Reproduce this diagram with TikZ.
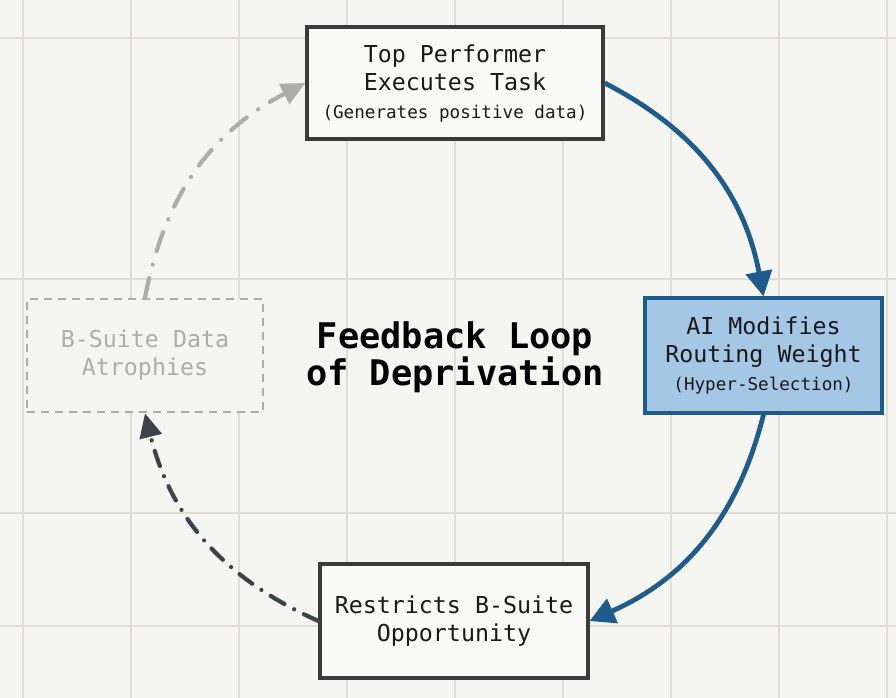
\documentclass[tikz,border=0pt]{standalone}
\usepackage{fontspec}
\setmonofont{DejaVu Sans Mono}
\usepackage{tikz}
\usetikzlibrary{arrows.meta}
\definecolor{paper}{HTML}{F5F5F1}
\definecolor{gridline}{HTML}{DFDDD8}
\definecolor{ink}{HTML}{3A3A3A}
\definecolor{routeblue}{HTML}{1D5C8C}
\definecolor{routefill}{HTML}{A4C7E5}
\definecolor{fadegray}{HTML}{ADADAB}
\definecolor{slate}{HTML}{3C434A}
\newcommand*{\bigline}{\fontsize{23.3}{28}\selectfont}
\newcommand*{\subline}[1]{{\fontsize{17.6}{27}\selectfont #1}}

\begin{document}
\begin{tikzpicture}
[
    x = 1pt, y = 1pt,
    grid/.style={draw = gridline, line width = 1.2pt},
    box/.style={draw = ink, line width = 3.2pt, fill = paper!50!white, minimum height = 112pt, align = center, font = \ttfamily\bigline, text = black!90},
    hot/.style={box, draw = routeblue, fill = routefill},
    faded/.style={box, draw = fadegray, line width = 2.6pt, dash pattern = on 8pt off 6pt, text = fadegray, fill = paper}, % Style for the lost node
    title/.style={align = center, font = \ttfamily\bfseries\fontsize{35.3}{36}\selectfont},
    arrow/.style={draw = routeblue, line width = 4.8pt, -{Triangle[length = 25pt, width = 26pt]}},
    back/.style={draw = slate, line width = 4.2pt, line cap = round, dash pattern = on 16pt off 11pt on 0pt off 11pt, -{Triangle[length = 24pt, width = 22pt]}},
    ghost/.style={back, draw = fadegray, dash pattern = on 20pt off 14pt on 0pt off 14pt},
]

% Paper and grid
\fill[paper] (0,0) rectangle (896,-698);
\useasboundingbox (0,0) rectangle (896,-698);
\foreach \gx in {23,131,...,887}
	\draw[grid] (\gx,0) -- (\gx,-698);
\foreach \gy in {38,279,513,626}
	\draw[grid] (0,-\gy) -- (896,-\gy);

% The four stages of the loop
\node[box, minimum width = 296pt] (perf) at (455,-83) {Top Performer\\Executes Task\\\subline{(Generates positive data)}};
\node[hot, minimum width = 237pt, minimum height = 115pt] (route) at (763.5,-355.5) {AI Modifies\\Routing Weight\\\subline{(Hyper-Selection)}};
\node[box, minimum width = 268pt, minimum height = 114pt] (restrict) at (454,-621) {Restricts B-Suite\\Opportunity};
\node[faded, minimum width = 236pt, minimum height = 113pt] (atrophy) at (145,-355.5) {B-Suite Data\\Atrophies};
\node[title] (loop) at (455,-357) {Feedback Loop\\of Deprivation};

	\draw[arrow] (perf.east) to[bend left = 26] (route.north);
	\draw[arrow] (route.south) to[bend left = 26] (restrict.east);
	\draw[back] (restrict.west) to[bend left = 26] (atrophy.south);
	\draw[ghost] (atrophy.north) to[bend left = 26] (perf.west);
\end{tikzpicture}
\end{document}
